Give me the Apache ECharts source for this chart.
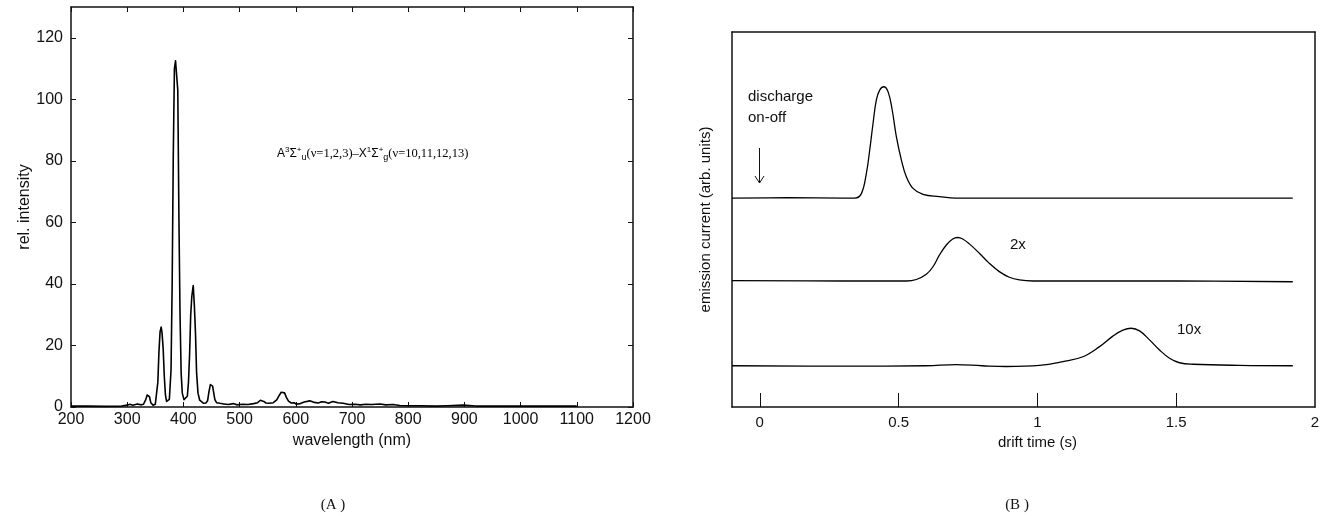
<!DOCTYPE html>
<html>
<head>
<meta charset="utf-8">
<script src="https://cdn.jsdelivr.net/npm/echarts@6/dist/echarts.min.js"></script>
<style>
html,body{margin:0;padding:0;background:#fff;}
#chart{width:1327px;height:516px;}
</style>
</head>
<body>
<div id="chart"></div>
<script>
// ---- Panel A: emission spectrum ----
const wavelength = [200, 230, 260, 290, 300, 305, 310, 318, 325, 329, 333, 335.5, 337.5, 339.5, 342, 346, 350, 352.5, 354.5, 356.5, 358.5, 359.5, 360.5, 362, 364, 366, 368, 370, 372, 375, 378, 380, 382, 384, 386, 388, 390, 392, 394, 396, 398, 401, 404, 407, 409, 411, 413, 415, 417.5, 419.5, 421.5, 423.5, 426, 429, 432, 436, 440, 443, 445.5, 448, 450, 452, 454, 456, 459, 465, 472, 480, 489, 495, 505, 515, 525, 532, 537, 540, 543, 547, 552, 560, 566, 570, 574, 577, 580, 583, 587, 592, 597, 601, 608, 615, 625, 633, 640, 646, 652, 658, 666, 675, 684, 695, 705, 715, 725, 735, 750, 760, 773, 785, 800, 820, 850, 870, 898, 920, 950, 1000, 1050, 1100];
const intensity = [0.3, 0.3, 0.2, 0.3, 0.6, 0.9, 0.6, 1.0, 0.7, 0.9, 2.4, 3.9, 4.4, 3.4, 1.4, 0.6, 0.9, 1.5, 8, 18, 24.5, 24.8, 26, 24, 19, 10, 4, 1.8, 1.2, 2.5, 12, 40, 82, 110, 112.5, 112, 103, 62, 30, 11, 4.5, 2.4, 2.0, 3.5, 8, 17, 30, 36, 39.5, 33, 24, 11, 4.5, 2.2, 1.6, 1.2, 1.3, 2, 5, 7.3, 7.7, 6.8, 4.5, 2.4, 1.4, 1.2, 1.0, 0.8, 1.1, 0.7, 0.9, 0.8, 1.1, 1.4, 2.2, 2.4, 1.8, 1.3, 1.2, 1.4, 2.3, 3.6, 4.8, 5.2, 4.6, 3.2, 1.9, 1.3, 1.4, 0.9, 1.1, 1.6, 2.0, 1.5, 1.3, 1.7, 1.6, 1.2, 1.8, 1.4, 1.2, 0.8, 0.9, 0.7, 0.9, 0.8, 1.0, 0.7, 0.8, 0.5, 0.4, 0.4, 0.3, 0.4, 0.6, 0.3, 0.3, 0.3, 0.3, 0.3];
const wavelengthTicks = [200, 300, 400, 500, 600, 700, 800, 900, 1000, 1100, 1200];
const intensityTicks = [0, 20, 40, 60, 80, 100, 120];

// ---- Panel B: drift-time traces (arb. units) ----
const time1 = [-0.1, 0.1, 0.3, 0.342, 0.366, 0.384, 0.396, 0.408, 0.420, 0.432, 0.446, 0.462, 0.477, 0.492, 0.510, 0.528, 0.552, 0.588, 0.647, 0.706, 1.0, 1.5, 1.92];
const trace1 = [55.7, 55.8, 55.7, 55.7, 56.9, 62.3, 68.5, 75.6, 81.9, 84.5, 85.4, 84.1, 79.2, 72.1, 65.9, 61.4, 58.3, 56.7, 56.1, 55.7, 55.7, 55.7, 55.7];
const time2 = [-0.1, 0.3, 0.528, 0.564, 0.600, 0.624, 0.647, 0.672, 0.695, 0.713, 0.731, 0.755, 0.791, 0.827, 0.863, 0.899, 0.935, 0.983, 1.5, 1.92];
const trace2 = [33.7, 33.6, 33.6, 34.0, 35.4, 37.4, 40.5, 43.2, 44.8, 45.2, 44.8, 43.5, 41.0, 38.3, 36.1, 34.6, 33.9, 33.6, 33.6, 33.4];
const time3 = [-0.1, 0.3, 0.6, 0.707, 0.8, 0.888, 1.008, 1.092, 1.164, 1.224, 1.272, 1.308, 1.338, 1.368, 1.404, 1.440, 1.476, 1.512, 1.560, 1.727, 1.92];
const trace3 = [11.0, 10.9, 11.0, 11.3, 11.0, 10.8, 11.1, 12.1, 13.4, 16.1, 18.9, 20.5, 21.0, 20.3, 17.9, 15.2, 13.0, 11.8, 11.4, 11.1, 11.0];
const timeTicks = [0, 0.5, 1, 1.5];
const timeLabels = [0, 0.5, 1, 1.5, 2];

const zip = (xs, ys) => xs.map((x, i) => [x, ys[i]]);

const SANS = '"Liberation Sans", Arial, sans-serif';
const SERIF = '"Liberation Serif", "Times New Roman", serif';
const axisLineStyle = {show: true, onZero: false, lineStyle: {color: '#111', width: 1.5}};
const none = {show: false};
const plain = v => String(v);

const chart = echarts.init(document.getElementById('chart'), null, {renderer: 'canvas'});

const option = {
  animation: false,
  backgroundColor: '#fff',
  grid: [
    {left: 71, top: 7, width: 562, height: 400, containLabel: false},
    {left: 732, top: 32, width: 583, height: 375, containLabel: false}
  ],
  xAxis: [
    {
      gridIndex: 0, type: 'value', position: 'bottom', min: 200, max: 1200, interval: 100,
      axisLine: axisLineStyle,
      axisTick: {show: true, inside: true, length: 5, lineStyle: {color: '#111'}, customValues: wavelengthTicks},
      axisLabel: {show: true, margin: 5, fontFamily: SANS, fontSize: 16, color: '#111', customValues: wavelengthTicks, formatter: plain},
      splitLine: none,
      name: 'wavelength (nm)', nameLocation: 'middle', nameGap: 23,
      nameTextStyle: {fontFamily: SANS, fontSize: 16, color: '#111'}
    },
    {
      gridIndex: 0, type: 'value', position: 'top', min: 200, max: 1200, interval: 100,
      axisLine: axisLineStyle,
      axisTick: {show: true, inside: true, length: 5, lineStyle: {color: '#111'}, customValues: wavelengthTicks},
      axisLabel: none, splitLine: none
    },
    {
      gridIndex: 1, type: 'value', position: 'bottom', min: -0.1, max: 2,
      axisLine: axisLineStyle,
      axisTick: {show: true, inside: true, length: 14, lineStyle: {color: '#111', width: 1}, customValues: timeTicks},
      axisLabel: {show: true, margin: 8, fontFamily: SANS, fontSize: 15, color: '#111', customValues: timeLabels, formatter: plain},
      splitLine: none,
      name: 'drift time (s)', nameLocation: 'middle', nameGap: 27,
      nameTextStyle: {fontFamily: SANS, fontSize: 15, color: '#111', padding: [0, 0, 0, 28]}
    },
    {
      gridIndex: 1, type: 'value', position: 'top', min: -0.1, max: 2,
      axisLine: axisLineStyle, axisTick: none, axisLabel: none, splitLine: none
    }
  ],
  yAxis: [
    {
      gridIndex: 0, type: 'value', position: 'left', min: 0, max: 130, interval: 20,
      axisLine: axisLineStyle,
      axisTick: {show: true, inside: true, length: 5, lineStyle: {color: '#111'}, customValues: intensityTicks},
      axisLabel: {show: true, margin: 8, fontFamily: SANS, fontSize: 16, color: '#111', customValues: intensityTicks, formatter: plain},
      splitLine: none,
      name: 'rel. intensity', nameLocation: 'middle', nameGap: 38, nameRotate: 90,
      nameTextStyle: {fontFamily: SANS, fontSize: 16, color: '#111'}
    },
    {
      gridIndex: 0, type: 'value', position: 'right', min: 0, max: 130, interval: 20,
      axisLine: axisLineStyle,
      axisTick: {show: true, inside: true, length: 5, lineStyle: {color: '#111'}, customValues: intensityTicks},
      axisLabel: none, splitLine: none
    },
    {
      gridIndex: 1, type: 'value', position: 'left', min: 0, max: 100,
      axisLine: axisLineStyle, axisTick: none, axisLabel: none, splitLine: none,
      name: 'emission current (arb. units)', nameLocation: 'middle', nameGap: 19, nameRotate: 90,
      nameTextStyle: {fontFamily: SANS, fontSize: 15, color: '#111'}
    },
    {
      gridIndex: 1, type: 'value', position: 'right', min: 0, max: 100,
      axisLine: axisLineStyle, axisTick: none, axisLabel: none, splitLine: none
    }
  ],
  series: [
    {
      type: 'line', xAxisIndex: 0, yAxisIndex: 0, data: zip(wavelength, intensity),
      showSymbol: false, smooth: false,
      lineStyle: {color: '#000', width: 1.6, join: 'round'}, z: 3
    },
    {
      type: 'line', xAxisIndex: 2, yAxisIndex: 2, data: zip(time1, trace1),
      showSymbol: false, smooth: 0.4,
      lineStyle: {color: '#000', width: 1.3, join: 'round'}
    },
    {
      type: 'line', xAxisIndex: 2, yAxisIndex: 2, data: zip(time2, trace2),
      showSymbol: false, smooth: 0.4,
      lineStyle: {color: '#000', width: 1.3, join: 'round'}
    },
    {
      type: 'line', xAxisIndex: 2, yAxisIndex: 2, data: zip(time3, trace3),
      showSymbol: false, smooth: 0.4,
      lineStyle: {color: '#000', width: 1.3, join: 'round'}
    }
  ],
  graphic: [
    {
      type: 'text', x: 277, y: 154,
      style: {
        text: '{s|A}{sup|3}{s|Σ}{sup|+}{sub|u}{r|(ν=1,2,3)–}{s|X}{sup|1}{s|Σ}{sup|+}{sub|g}{r|(ν=10,11,12,13)}',
        align: 'left', verticalAlign: 'middle', fill: '#000',
        rich: {
          s: {fontFamily: SANS, fontSize: 12, lineHeight: 16, verticalAlign: 'middle'},
          r: {fontFamily: SERIF, fontSize: 12.5, lineHeight: 16, verticalAlign: 'middle'},
          sup: {fontFamily: SANS, fontSize: 8, lineHeight: 8, verticalAlign: 'top'},
          sub: {fontFamily: SANS, fontSize: 9, lineHeight: 8, verticalAlign: 'bottom'}
        }
      }
    },
    {type: 'text', x: 748, y: 97, style: {text: 'discharge', font: '15px ' + SANS, fill: '#111', align: 'left', verticalAlign: 'middle'}},
    {type: 'text', x: 748, y: 118, style: {text: 'on-off', font: '15px ' + SANS, fill: '#111', align: 'left', verticalAlign: 'middle'}},
    {type: 'line', shape: {x1: 759.5, y1: 148, x2: 759.5, y2: 183}, style: {stroke: '#111', lineWidth: 1}},
    {type: 'polyline', shape: {points: [[755, 176], [759.5, 183], [764, 176]]}, style: {stroke: '#111', lineWidth: 1, fill: null}},
    {type: 'text', x: 1010, y: 245, style: {text: '2x', font: '15px ' + SANS, fill: '#111', align: 'left', verticalAlign: 'middle'}},
    {type: 'text', x: 1177, y: 330, style: {text: '10x', font: '15px ' + SANS, fill: '#111', align: 'left', verticalAlign: 'middle'}},
    {type: 'text', x: 333, y: 505, style: {text: '(A )', font: '15px ' + SERIF, fill: '#111', align: 'center', verticalAlign: 'middle'}},
    {type: 'text', x: 1017, y: 505, style: {text: '(B )', font: '15px ' + SERIF, fill: '#111', align: 'center', verticalAlign: 'middle'}}
  ]
};
chart.setOption(option);
</script>
</body>
</html>
